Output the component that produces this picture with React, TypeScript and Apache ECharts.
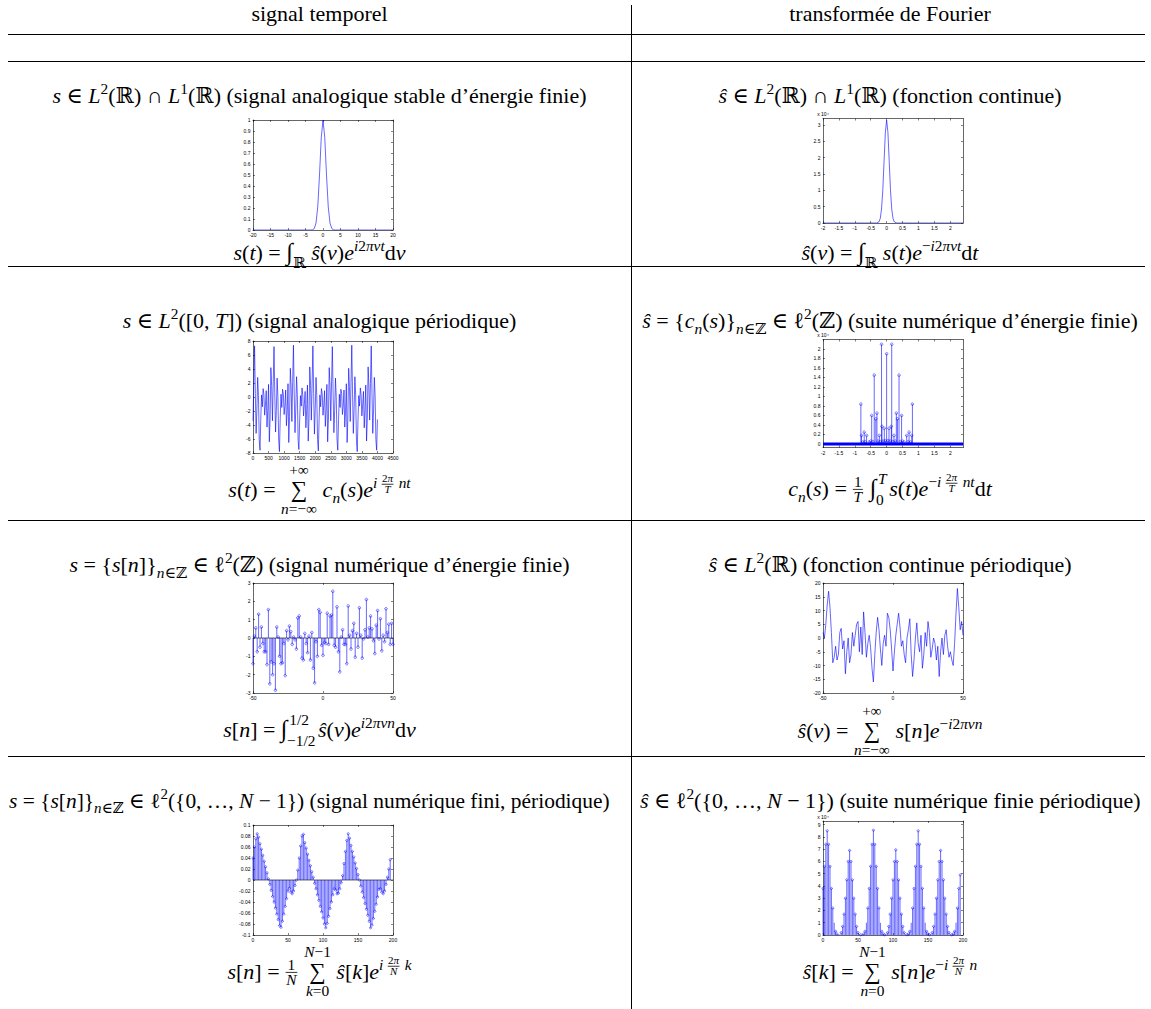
import React, { useEffect, useRef } from 'react';
import * as echarts from 'echarts';

// ===================== DATA =====================
// Row 1, left : analog pulse s(t)
const pulseT = [-20, -3.5, -3, -2.5, -2, -1.5, -1, -0.5, 0, 0.5, 1, 1.5, 2, 2.5, 3, 3.5, 20];
const pulseS = [0, 0, 0.002, 0.013, 0.063, 0.21, 0.5, 0.84, 1, 0.84, 0.5, 0.21, 0.063, 0.013, 0.002, 0, 0];
const pulseXTicks = [-20, -15, -10, -5, 0, 5, 10, 15, 20];
const pulseYTicks = [0, 0.1, 0.2, 0.3, 0.4, 0.5, 0.6, 0.7, 0.8, 0.9, 1];

// Row 1, right : its Fourier transform (x 10^4)
const ftNu = [-2, -0.32, -0.24, -0.2, -0.16, -0.12, -0.08, -0.04, 0, 0.04, 0.08, 0.12, 0.16, 0.2, 0.24, 0.32, 2.4];
const ftVal = [0, 0, 0.035, 0.14, 0.43, 1.02, 1.91, 2.78, 3.15, 2.78, 1.91, 1.02, 0.43, 0.14, 0.035, 0, 0];
const ftXTicks = [-2, -1.5, -1, -0.5, 0, 0.5, 1, 1.5, 2];
const ftYTicks = [0, 0.5, 1, 1.5, 2, 2.5, 3];

// Row 2, left : periodic analog signal, one sample every 25
const periodicStep = 25;
const periodicSig = [
  -3.4, 2.0,
  7.3, 0.5, -5.2, -1.8, 2.8, 0.2, -6.1, -7.6, -3.2, 0.3, -1.4, 1.2, 0.4, -2.6, -1.2, 0.9, -4.3, -1.9, 1.8, -6.4, -3.0, 4.2, 1.6, -3.4, 2.0,
  7.2, 0.6, -5.0, -1.9, 2.7, 0.1, -6.0, -7.8, -3.0, 0.4, -1.5, 1.1, 0.5, -2.5, -1.3, 1.0, -4.1, -2.0, 1.9, -6.5, -2.8, 4.1, 1.5, -3.5, 2.1,
  7.4, 0.4, -5.1, -1.7, 2.9, 0.3, -6.2, -7.5, -3.3, 0.2, -1.3, 1.3, 0.3, -2.7, -1.1, 0.8, -4.4, -1.8, 1.7, -6.3, -3.1, 4.3, 1.7, -3.3, 1.9,
  7.3, 0.5, -5.3, -1.8, 2.8, 0.2, -6.1, -7.7, -3.1, 0.3, -1.4, 1.2, 0.4, -2.6, -1.2, 0.9, -4.2, -1.9, 1.8, -6.4, -3.0, 4.2, 1.6, -3.4, 2.0,
  7.2, 0.6, -5.1, -1.9, 2.7, 0.1, -6.0, -7.6, -3.2, 0.4, -1.5, 1.1, 0.5, -2.5, -1.3, 1.0, -4.3, -2.0, 1.9, -6.5, -2.9, 4.1, 1.5, -3.5, 2.1,
  7.4, 0.4, -5.2, -1.7, 2.9, 0.3, -6.2, -7.8, -3.3, 0.2, -1.3, 1.3, 0.3, -2.7, -1.1, 0.8, -4.4, -1.8, 1.7, -6.3, -3.1, 4.3, 1.7, -3.3, 1.9,
  7.3, 0.5, -5.2, -1.8, 2.8, 0.2, -6.1, -7.6, -3.2,
];
const periodicXTicks = [0, 500, 1000, 1500, 2000, 2500, 3000, 3500, 4000, 4500];
const periodicYTicks = [-8, -6, -4, -2, 0, 2, 4, 6, 8];

// Row 2, right : Fourier coefficients c_n(s) (x 10^4)
const coefNu = [-0.81, -0.79, -0.75, -0.705, -0.68, -0.63, -0.55, -0.5, -0.47, -0.43, -0.39, -0.34, -0.305, -0.27, -0.23, -0.2, -0.16, -0.147, -0.11, -0.074, -0.04, 0,
  0.04, 0.074, 0.11, 0.147, 0.16, 0.2, 0.23, 0.27, 0.305, 0.34, 0.39, 0.43, 0.47, 0.5, 0.55, 0.63, 0.68, 0.705, 0.75, 0.79, 0.81];
const coefVal = [0.84, 0.18, 0.04, 0.25, 0.05, 0.18, 0.04, 0.06, 0.6, 0.05, 1.45, 0.53, 0.65, 0.06, 0.18, 0.05, 2.1, 0.37, 0.06, 0.33, 0.07, 1.9,
  0.07, 0.33, 0.06, 0.37, 2.1, 0.05, 0.18, 0.06, 0.65, 0.53, 1.45, 0.05, 0.6, 0.06, 0.04, 0.18, 0.05, 0.25, 0.04, 0.18, 0.84];
const coefXTicks = [-2, -1.5, -1, -0.5, 0, 0.5, 1, 1.5, 2];
const coefYTicks = [0, 0.2, 0.4, 0.6, 0.8, 1, 1.2, 1.4, 1.6, 1.8, 2];

// Row 3, left : discrete sequence s[n], n = -50..50
const seqN0 = -50;
const seqVal = [
  -1.4, 0.1, 0.55, -0.75, 1.3, -0.5, 0.6, -0.3, -0.75, -0.75,
  -1.45, 1.55, -2.5, -1.3, -2.0, -1.4, -2.85, 0.6, 0.05, -1.0,
  -1.4, -1.35, -0.3, -2.05, 0.4, -0.1, 0.65, 0.35, -0.35, 0.05,
  -0.1, -0.6, 1.1, 1.2, 0.05, -1.1, -1.2, 0.25, -0.3, -0.8,
  0.1, -1.2, 0.3, -1.65, -2.45, -0.2, -1.0, 1.55, 1.4, -0.4,
  -0.95, -0.25, -0.3, 1.35, -0.35, 1.2, 1.25, 2.55, -0.4, -0.5,
  1.7, -0.75, -1.85, 0.05, 0.45, -0.35, -0.35, -1.4, 1.75, 0.15,
  -0.6, 0.4, 0.8, -1.05, 0.25, -0.5, 1.65, 0.15, -1.1, -0.05,
  0.45, 2.1, 0.05, 0.55, 1.2, 0.5, -0.15, -0.85, 0.7, 1.5,
  -0.05, 1.05, -0.7, 0.15, -0.2, 1.6, 0.3, 0.75, -0.35, 0.8,
  -0.35,
];
const seqXTicks = [-50, 0, 50];
const seqYTicks = [-3, -2, -1, 0, 1, 2, 3];

// Row 3, right : periodic continuous transform
const dtftX0 = -50;
const dtftVal = [
  2, 0, 5, 12, 17, 11, 2, -9, -7, -3,
  -8, -6, 2, 3.5, -4, -1, -13, -5, 0, -9,
  -6, 2, -3, 1, 5, 6, -5, 4, -6, 9.5,
  2, -7, -2, 1, -3.5, -11, -16, -6, 2, 7.5,
  3, -4, -10, -2, 1, -3, 9, 7.5, 3, -4,
  -12,
  -5, 1, 5, 9, 4, -3, -1, -6, -9, 0,
  3, 7, -6, -14, -8, 0, 5.5, -2, -5, 1,
  -11, -6, 2, -3, 6, 2, -7, -4, 0, -2,
  -8, -3, -14, -5, 0, -6, 1, 3, -3, -7,
  -5, -8, -10, -2, 9, 18, 11, 3, 6, 1,
];
const dtftXTicks = [-50, 0, 50];
const dtftYTicks = [-20, -15, -10, -5, 0, 5, 10, 15, 20];

// Row 4, left : finite periodic sequence (every 2nd sample shown)
const finStep = 2;
const finVal = [
  0.04, 0.06, 0.075, 0.084, 0.078, 0.066, 0.056, 0.045, 0.034, 0.024,
  0.013, 0.002, -0.008, -0.019, -0.03, -0.04, -0.051, -0.062, -0.072, -0.083,
  -0.086, -0.075, -0.062, -0.048, -0.034, -0.02, -0.015, -0.022, -0.025, -0.02,
  -0.01, 0.0, 0.018, 0.04, 0.062, 0.08, 0.083, 0.068, 0.058, 0.047,
  0.036, 0.026, 0.015, 0.005, -0.006, -0.016, -0.027, -0.037, -0.048, -0.058,
  -0.069, -0.08, -0.087, -0.079, -0.066, -0.052, -0.04, -0.027, -0.016, -0.018,
  -0.025, -0.024, -0.016, -0.005, 0.008, 0.03, 0.052, 0.072, 0.084, 0.076,
  0.063, 0.052, 0.042, 0.031, 0.021, 0.01, 0.0, -0.011, -0.022, -0.032,
  -0.043, -0.053, -0.064, -0.075, -0.087, -0.082, -0.07, -0.057, -0.044, -0.031,
  -0.017, -0.016, -0.022, -0.025, -0.02, -0.008, 0.005, 0.02, 0.037,
];
const finXTicks = [0, 50, 100, 150, 200];
const finYTicks = [-0.1, -0.08, -0.06, -0.04, -0.02, 0, 0.02, 0.04, 0.06, 0.08, 0.1];

// Row 4, right : DFT (x 10^4), every 2nd bin shown
const dftStep = 2;
const dftVal = [
  3.8, 5.6, 7.4, 8.5, 7.4, 5.6, 3.8, 2.2, 1.0, 0.3,
  0.08, 0.05, 0.05, 0.2, 0.7, 1.7, 3.0, 4.5, 6.0, 6.9,
  6.0, 4.5, 3.0, 1.7, 0.7, 0.2, 0.05, 0.02, 0.05, 0.08,
  0.3, 1.0, 2.2, 3.8, 5.6, 7.4, 8.55, 7.4, 5.6, 3.8,
  2.2, 1.0, 0.3, 0.08, 0.02, 0.05, 0.2, 0.7, 1.7, 3.0,
  4.5, 6.0, 6.95, 6.0, 4.5, 3.0, 1.7, 0.7, 0.2, 0.05,
  0.02, 0.08, 0.3, 1.0, 2.2, 3.8, 5.6, 7.4, 8.5, 7.4,
  5.6, 3.8, 2.2, 1.0, 0.3, 0.08, 0.02, 0.05, 0.2, 0.7,
  1.7, 3.0, 4.5, 6.0, 6.9, 6.0, 4.5, 3.0, 1.7, 0.7,
  0.2, 0.05, 0.02, 0.08, 0.3, 1.0, 2.2, 3.8, 4.9,
];
const dftXTicks = [0, 50, 100, 150, 200];
const dftYTicks = [0, 1, 2, 3, 4, 5, 6, 7, 8, 9];

// ===================== LAYOUT / STYLE =====================
const PAGE_W = 1151;
const PAGE_H = 1009;
const FAMILY = 'Liberation Serif, DejaVu Serif, serif';
const F0 = 22;
const CENTRAL = 0.3375;
const BLUE = '#0000ff';

type Panel = {
  left: number; top: number; width: number; height: number;
  x: [number, number]; y: [number, number];
  xt: number[]; yt: number[]; exp?: string;
};

const panels: Panel[] = [
  { left: 253, top: 120, width: 140, height: 110, x: [-20, 20], y: [0, 1], xt: pulseXTicks, yt: pulseYTicks },
  { left: 823, top: 118.5, width: 140, height: 104.5, x: [-2, 2.4], y: [0, 3.2], xt: ftXTicks, yt: ftYTicks, exp: 'x 10⁴' },
  { left: 253, top: 341, width: 140, height: 112, x: [0, 4500], y: [-8, 8], xt: periodicXTicks, yt: periodicYTicks },
  { left: 823, top: 339.5, width: 140, height: 108, x: [-2, 2.4], y: [-0.074, 2.2], xt: coefXTicks, yt: coefYTicks, exp: 'x 10⁴' },
  { left: 253, top: 583, width: 140, height: 110, x: [-50, 50], y: [-3, 3], xt: seqXTicks, yt: seqYTicks },
  { left: 823, top: 583, width: 140, height: 110, x: [-50, 50], y: [-20, 20], xt: dtftXTicks, yt: dtftYTicks },
  { left: 253, top: 825, width: 140, height: 110, x: [0, 200], y: [-0.1, 0.1], xt: finXTicks, yt: finYTicks },
  { left: 823, top: 821, width: 140, height: 114, x: [0, 200], y: [0, 9.3], xt: dftXTicks, yt: dftYTicks, exp: 'x 10⁴' },
];

// ===================== MATH TEXT LAYOUT =====================
type Run = { t: string; it?: boolean; s?: number; dy?: number };
type Frac = { kind: 'frac'; num: Run[]; den: Run[]; s: number; bar: number };
type Op = { kind: 'op'; op: Run; top: Run[]; bot: Run[]; topDy: number; botDy: number };
type Scr = { kind: 'scr'; base: Run; sup: Run[]; sub: Run[]; supDy: number; subDy: number };
type Item = Run | Frac | Op | Scr;
type El = { t: string; x: number; b: number; size: number; it: boolean } | { rule: true; x1: number; x2: number; y: number };

const SC = 0.7, SS = 0.5, UP = -0.42, DN = 0.25;
const R = (t: string, o: Partial<Run> = {}): Run => ({ t, ...o });
const I = (t: string, o: Partial<Run> = {}): Run => ({ t, it: true, ...o });
const sp = (t: string) => R(t, { s: SC, dy: UP });
const ip = (t: string) => I(t, { s: SC, dy: UP });
const sb = (t: string) => R(t, { s: SC, dy: DN });
const ib = (t: string) => I(t, { s: SC, dy: DN });
const sum = (top: Run[], bot: Run[]): Op => ({ kind: 'op', op: R('∑', { s: 1.05 }), top, bot, topDy: -1.0, botDy: 0.78 });
const expFrac = (den: string): Frac => ({ kind: 'frac', num: [R('2', { s: SS }), I('π', { s: SS })], den: [I(den, { s: SS })], s: SS, bar: -0.58 });
const oneOver = (den: string): Frac => ({ kind: 'frac', num: [R('1', { s: SC })], den: [I(den, { s: SC })], s: SC, bar: -0.3 });
const integ = (sup: Run[], sub: Run[]): Scr => ({ kind: 'scr', base: R('∫', { s: 1.1 }), sup, sub, supDy: -0.55, subDy: 0.38 });

let mctx: CanvasRenderingContext2D | null = null;
function measure(t: string, size: number, it: boolean): number {
  if (!mctx) mctx = document.createElement('canvas').getContext('2d');
  mctx!.font = `${it ? 'italic ' : ''}${size}px ${FAMILY}`;
  return mctx!.measureText(t).width;
}

function layout(items: Item[], F: number): { w: number; els: El[] } {
  const runW = (r: Run) => measure(r.t, (r.s ?? 1) * F, !!r.it);
  const runsW = (rs: Run[]) => rs.reduce((a, r) => a + runW(r), 0);
  const placeRuns = (rs: Run[], x: number, base: number, out: El[]): number => {
    for (const r of rs) {
      const size = (r.s ?? 1) * F;
      out.push({ t: r.t, x, b: base + (r.dy ?? 0) * F, size, it: !!r.it });
      x += measure(r.t, size, !!r.it);
    }
    return x;
  };
  const out: El[] = [];
  let x = 0;
  for (const it of items) {
    if ('kind' in it) {
      if (it.kind === 'frac') {
        const wn = runsW(it.num), wd = runsW(it.den);
        const w = Math.max(wn, wd) + 0.16 * it.s * F;
        const barY = it.bar * F;
        placeRuns(it.num, x + (w - wn) / 2, barY - 0.2 * it.s * F, out);
        placeRuns(it.den, x + (w - wd) / 2, barY + 0.8 * it.s * F, out);
        out.push({ rule: true, x1: x + 0.5, x2: x + w - 0.5, y: barY });
        x += w + 0.04 * F;
      } else if (it.kind === 'op') {
        const wo = runW(it.op), wt = runsW(it.top), wb = runsW(it.bot);
        const w = Math.max(wo, wt, wb);
        placeRuns([it.op], x + (w - wo) / 2, 0, out);
        placeRuns(it.top, x + (w - wt) / 2, it.topDy * F, out);
        placeRuns(it.bot, x + (w - wb) / 2, it.botDy * F, out);
        x += w;
      } else {
        const bw = runW(it.base);
        placeRuns([it.base], x, 0, out);
        const ws = placeRuns(it.sup, x + bw + 0.08 * F, it.supDy * F, out);
        const wb = placeRuns(it.sub, x + bw - 0.02 * F, it.subDy * F, out);
        x = Math.max(ws, wb) + 0.12 * F;
      }
    } else {
      x = placeRuns([it], x, 0, out);
    }
  }
  return { w: x, els: out };
}

type TextSpec = { items: Item[]; base: number; cx?: number; left?: number; scale?: number };
function formulaElements(spec: TextSpec): any[] {
  const F = F0 * (spec.scale ?? 1);
  const { w, els } = layout(spec.items, F);
  const x0 = spec.left !== undefined ? spec.left : (spec.cx ?? 0) - w / 2;
  const base = spec.base;
  return els.map((e) => {
    if ('rule' in e) {
      return { type: 'line', silent: true, shape: { x1: x0 + e.x1, y1: base + e.y, x2: x0 + e.x2, y2: base + e.y }, style: { stroke: '#000', lineWidth: 0.8 } };
    }
    return {
      type: 'text', silent: true,
      style: {
        text: e.t, x: x0 + e.x, y: base + e.b - CENTRAL * e.size,
        fontSize: e.size, fontFamily: FAMILY, fontStyle: e.it ? 'italic' : 'normal', fontWeight: 'normal', fill: '#000',
        textAlign: 'left', textVerticalAlign: 'middle', align: 'left', verticalAlign: 'middle',
      },
    };
  });
}

// Table texts
const colL = 319.5;
const colR = 890;
const texts: TextSpec[] = [
  { items: [R('signal temporel')], cx: colL, base: 21 },
  { items: [R('transformée de Fourier')], cx: colR, base: 21 },
  // row 1
  { items: [I('s'), R(' ∈ '), I('L'), sp('2'), R('(ℝ) ∩ '), I('L'), sp('1'), R('(ℝ) (signal analogique stable d’énergie finie)')], cx: colL, base: 103 },
  { items: [I('ŝ'), R(' ∈ '), I('L'), sp('2'), R('(ℝ) ∩ '), I('L'), sp('1'), R('(ℝ) (fonction continue)')], cx: colR, base: 103 },
  { items: [I('s'), R('('), I('t'), R(') = '), R('∫', { s: 1.1 }), R('ℝ', { s: SC, dy: 0.35 }), R(' '), I('ŝ'), R('('), I('ν'), R(')'), I('e'), ip('i'), sp('2'), ip('πνt'), R('d'), I('ν')], cx: colL, base: 259.5 },
  { items: [I('ŝ'), R('('), I('ν'), R(') = '), R('∫', { s: 1.1 }), R('ℝ', { s: SC, dy: 0.35 }), R(' '), I('s'), R('('), I('t'), R(')'), I('e'), sp('−'), ip('i'), sp('2'), ip('πνt'), R('d'), I('t')], cx: colR, base: 259.5 },
  // row 2
  { items: [I('s'), R(' ∈ '), I('L'), sp('2'), R('([0, '), I('T'), R(']) (signal analogique périodique)')], cx: colL, base: 328 },
  { items: [I('ŝ'), R(' = {'), I('c'), ib('n'), R('('), I('s'), R(')}'), ib('n'), sb('∈ℤ'), R(' ∈ ℓ'), sp('2'), R('(ℤ) (suite numérique d’énergie finie)')], cx: colR, base: 328 },
  { items: [I('s'), R('('), I('t'), R(') = '), sum([R('+∞', { s: SC })], [I('n', { s: SC }), R('=−∞', { s: SC })]), R(' '), I('c'), ib('n'), R('('), I('s'), R(')'), I('e'), ip('i '), expFrac('T'), ip(' nt')], cx: colL, base: 497 },
  { items: [I('c'), ib('n'), R('('), I('s'), R(') = '), oneOver('T'), R(' '), integ([I('T', { s: SC })], [R('0', { s: SC })]), I('s'), R('('), I('t'), R(')'), I('e'), sp('−'), ip('i '), expFrac('T'), ip(' nt'), R('d'), I('t')], cx: colR, base: 496 },
  // row 3
  { items: [I('s'), R(' = {'), I('s'), R('['), I('n'), R(']}'), ib('n'), sb('∈ℤ'), R(' ∈ ℓ'), sp('2'), R('(ℤ) (signal numérique d’énergie finie)')], cx: colL, base: 572 },
  { items: [I('ŝ'), R(' ∈ '), I('L'), sp('2'), R('(ℝ) (fonction continue périodique)')], cx: colR, base: 572 },
  { items: [I('s'), R('['), I('n'), R('] = '), integ([R('1/2', { s: SC })], [R('−1/2', { s: SC })]), I('ŝ'), R('('), I('ν'), R(')'), I('e'), ip('i'), sp('2'), ip('πνn'), R('d'), I('ν')], cx: colL, base: 737 },
  { items: [I('ŝ'), R('('), I('ν'), R(') = '), sum([R('+∞', { s: SC })], [I('n', { s: SC }), R('=−∞', { s: SC })]), R(' '), I('s'), R('['), I('n'), R(']'), I('e'), sp('−'), ip('i'), sp('2'), ip('πνn')], cx: colR, base: 738 },
  // row 4 (over-wide lines: they start at their column's left edge)
  { items: [I('s'), R(' = {'), I('s'), R('['), I('n'), R(']}'), ib('n'), sb('∈ℤ'), R(' ∈ ℓ'), sp('2'), R('({0, …, '), I('N'), R(' − 1}) (signal numérique fini, périodique)')], left: 9, scale: 0.975, base: 808 },
  { items: [I('ŝ'), R(' ∈ ℓ'), sp('2'), R('({0, …, '), I('N'), R(' − 1})'), R(' (suite numérique finie périodique)')], left: 640, base: 808 },
  { items: [I('s'), R('['), I('n'), R('] = '), oneOver('N'), R(' '), sum([I('N', { s: SC }), R('−1', { s: SC })], [I('k', { s: SC }), R('=0', { s: SC })]), R(' '), I('ŝ'), R('['), I('k'), R(']'), I('e'), ip('i '), expFrac('N'), ip(' k')], cx: colL, base: 979 },
  { items: [I('ŝ'), R('['), I('k'), R('] = '), sum([I('N', { s: SC }), R('−1', { s: SC })], [I('n', { s: SC }), R('=0', { s: SC })]), R(' '), I('s'), R('['), I('n'), R(']'), I('e'), sp('−'), ip('i '), expFrac('N'), ip(' n')], cx: colR, base: 979 },
];

const hRules = [34.5, 61.5, 266.5, 520.5, 756.5];
const vRuleX = 631.5;

// ===================== CHART BUILDING =====================
const fmt = (v: number) => String(Math.round(v * 1e6) / 1e6);
const axisLine = { show: true, onZero: false, lineStyle: { color: '#000', width: 0.6 } };
const tickStyle = (vals: number[]) => ({ show: true, inside: true, length: 2, customValues: vals, lineStyle: { color: '#000', width: 0.5 } });
const labelStyle = (vals: number[], show: boolean) => ({
  show, customValues: vals, fontSize: 5, color: '#000', fontFamily: 'Liberation Sans, Arial, sans-serif',
  margin: 2.5, formatter: fmt, showMinLabel: true, showMaxLabel: true, hideOverlap: false,
});

function stemRender(r: number) {
  return (_params: any, api: any) => {
    const x = api.value(0), y = api.value(1);
    const p0 = api.coord([x, 0]);
    const p1 = api.coord([x, y]);
    return {
      type: 'group',
      children: [
        { type: 'line', shape: { x1: p0[0], y1: p0[1], x2: p1[0], y2: p1[1] }, style: { stroke: BLUE, lineWidth: 0.6 } },
        { type: 'circle', shape: { cx: p1[0], cy: p1[1], r }, style: { fill: 'none', stroke: BLUE, lineWidth: 0.5 } },
      ],
    };
  };
}

function buildOption() {
  const grid: any[] = [];
  const xAxis: any[] = [];
  const yAxis: any[] = [];
  panels.forEach((p, g) => {
    grid.push({ left: p.left, top: p.top, width: p.width, height: p.height, containLabel: false, outerBoundsMode: 'none', show: false });
    xAxis.push({ type: 'value', gridIndex: g, position: 'bottom', min: p.x[0], max: p.x[1], axisLine, axisTick: tickStyle(p.xt), axisLabel: labelStyle(p.xt, true), splitLine: { show: false } });
    xAxis.push({ type: 'value', gridIndex: g, position: 'top', min: p.x[0], max: p.x[1], axisLine, axisTick: tickStyle(p.xt), axisLabel: labelStyle(p.xt, false), splitLine: { show: false } });
    yAxis.push({
      type: 'value', gridIndex: g, position: 'left', min: p.y[0], max: p.y[1], axisLine, axisTick: tickStyle(p.yt), axisLabel: labelStyle(p.yt, true), splitLine: { show: false },
      name: p.exp ?? '', nameLocation: 'end', nameGap: 2,
      nameTextStyle: { fontSize: 5, color: '#000', fontFamily: 'Liberation Sans, DejaVu Sans, sans-serif', align: 'center' },
    });
    yAxis.push({ type: 'value', gridIndex: g, position: 'right', min: p.y[0], max: p.y[1], axisLine, axisTick: tickStyle(p.yt), axisLabel: labelStyle(p.yt, false), splitLine: { show: false } });
  });

  const lineSeries = (g: number, data: number[][], width = 0.6) => ({
    type: 'line', xAxisIndex: 2 * g, yAxisIndex: 2 * g, data, showSymbol: false, symbol: 'none', silent: true,
    lineStyle: { color: BLUE, width }, itemStyle: { color: BLUE },
  });
  const stemSeries = (g: number, data: number[][], r: number) => ({
    type: 'custom', xAxisIndex: 2 * g, yAxisIndex: 2 * g, data, renderItem: stemRender(r), encode: { x: 0, y: 1 }, silent: true, clip: false,
  });
  const baseLine = (g: number, color: string, width: number) => ({
    type: 'line', xAxisIndex: 2 * g, yAxisIndex: 2 * g, data: [[panels[g].x[0], 0], [panels[g].x[1], 0]], showSymbol: false, symbol: 'none', silent: true,
    lineStyle: { color, width },
  });

  const series: any[] = [
    lineSeries(0, pulseT.map((t, i) => [t, pulseS[i]])),
    lineSeries(1, ftNu.map((t, i) => [t, ftVal[i]])),
    lineSeries(2, periodicSig.map((v, i) => [i * periodicStep, v])),
    baseLine(3, BLUE, 3),
    stemSeries(3, coefNu.map((t, i) => [t, coefVal[i]]), 1.3),
    baseLine(4, '#000', 0.6),
    stemSeries(4, seqVal.map((v, i) => [seqN0 + i, v]), 1.3),
    lineSeries(5, dtftVal.map((v, i) => [dtftX0 + i, v])),
    baseLine(6, '#000', 0.6),
    stemSeries(6, finVal.map((v, i) => [i * finStep, v]), 1.1),
    stemSeries(7, dftVal.map((v, i) => [i * dftStep, v]), 1.1),
  ];

  const elements: any[] = [];
  elements.push({ type: 'line', silent: true, shape: { x1: vRuleX, y1: 5, x2: vRuleX, y2: PAGE_H }, style: { stroke: '#000', lineWidth: 1 } });
  hRules.forEach((y) => elements.push({ type: 'line', silent: true, shape: { x1: 8, y1: y, x2: 1145, y2: y }, style: { stroke: '#000', lineWidth: 1 } }));
  texts.forEach((t) => elements.push(...formulaElements(t)));

  return {
    animation: false,
    backgroundColor: '#fff',
    grid, xAxis, yAxis, series,
    graphic: { elements },
  };
}

export default function App() {
  const ref = useRef<HTMLDivElement>(null);
  useEffect(() => {
    const chart = echarts.init(ref.current!, null, { renderer: 'svg' });
    chart.setOption(buildOption() as any);
    return () => chart.dispose();
  }, []);
  return <div ref={ref} style={{ position: 'fixed', left: 0, top: 0, width: PAGE_W, height: PAGE_H, background: '#fff' }} />;
}
